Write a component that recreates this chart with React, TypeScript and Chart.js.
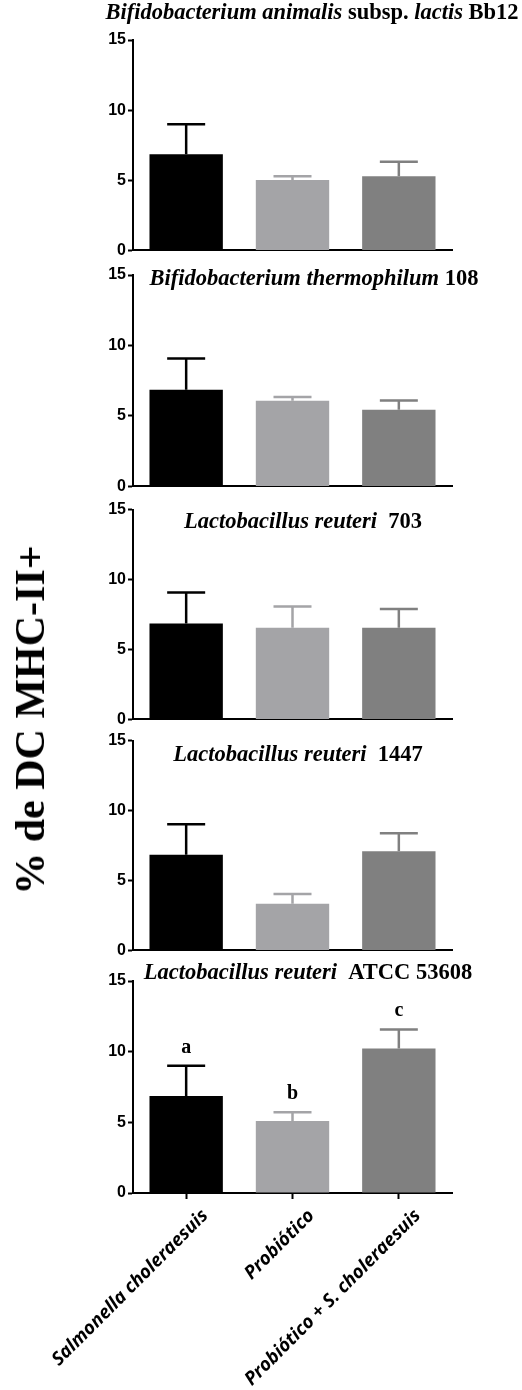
import React, { useEffect, useRef } from "react";
import { Chart, registerables } from "chart.js";

Chart.register(...registerables);

// ---------- DATA ----------
const CATEGORIES = ["Salmonella choleraesuis", "Probiótico", "Probiótico + S. choleraesuis"];
const Y_TICKS = [0, 5, 10, 15];
const Y_TITLE = "% de DC MHC-II+";

const TITLE_BB12: [string, boolean][] = [["Bifidobacterium animalis", true], [" subsp. ", false], ["lactis", true], [" Bb12", false]];
const MEANS_BB12 = [6.86, 5.02, 5.28];
const SEM_BB12 = [2.13, 0.26, 1.04];

const TITLE_108: [string, boolean][] = [["Bifidobacterium thermophilum", true], [" 108", false]];
const MEANS_108 = [6.85, 6.08, 5.44];
const SEM_108 = [2.23, 0.26, 0.66];

const TITLE_703: [string, boolean][] = [["Lactobacillus reuteri", true], ["  703", false]];
const MEANS_703 = [6.85, 6.55, 6.55];
const SEM_703 = [2.22, 1.53, 1.35];

const TITLE_1447: [string, boolean][] = [["Lactobacillus reuteri", true], ["  1447", false]];
const MEANS_1447 = [6.84, 3.33, 7.08];
const SEM_1447 = [2.18, 0.7, 1.29];

const TITLE_53608: [string, boolean][] = [["Lactobacillus reuteri", true], ["  ATCC 53608", false]];
const MEANS_53608 = [6.86, 5.1, 10.23];
const SEM_53608 = [2.14, 0.61, 1.34];
const LETTERS_53608 = ["a", "b", "c"];

// ---------- STYLE / LAYOUT ----------
const BAR_COLORS = ["#000000", "#a4a4a7", "#808080"];
const SERIF = "'Liberation Serif', 'Times New Roman', serif";
const SANS = "'Liberation Sans', Arial, sans-serif";

type Layout = { top: number; height: number; padTop: number; padBottom: number; titleX: number; titleY: number; xLabels: boolean };

const LAYOUTS: Layout[] = [
  { top: 0, height: 262, padTop: 40, padBottom: 10, titleX: 312, titleY: 13, xLabels: false },
  { top: 262, height: 236, padTop: 13, padBottom: 10, titleX: 314, titleY: 279, xLabels: false },
  { top: 498, height: 233, padTop: 11, padBottom: 10, titleX: 303, titleY: 522, xLabels: false },
  { top: 729, height: 233, padTop: 10, padBottom: 10, titleX: 298, titleY: 755, xLabels: false },
  { top: 962, height: 428, padTop: 19, padBottom: 0, titleX: 308, titleY: 973, xLabels: true },
];

type PanelSpec = { title: [string, boolean][]; means: number[]; sems: number[]; letters?: string[]; layout: Layout };

const PANELS: PanelSpec[] = [
  { title: TITLE_BB12, means: MEANS_BB12, sems: SEM_BB12, layout: LAYOUTS[0] },
  { title: TITLE_108, means: MEANS_108, sems: SEM_108, layout: LAYOUTS[1] },
  { title: TITLE_703, means: MEANS_703, sems: SEM_703, layout: LAYOUTS[2] },
  { title: TITLE_1447, means: MEANS_1447, sems: SEM_1447, layout: LAYOUTS[3] },
  { title: TITLE_53608, means: MEANS_53608, sems: SEM_53608, letters: LETTERS_53608, layout: LAYOUTS[4] },
];

function Panel({ p }: { p: PanelSpec }) {
  const ref = useRef<HTMLCanvasElement>(null);
  useEffect(() => {
    const canvas = ref.current!;
    const L = p.layout;

    const errorPlugin = {
      id: "errorBars",
      afterDatasetsDraw(chart: any) {
        const ctx = chart.ctx;
        const meta = chart.getDatasetMeta(0);
        const ys = chart.scales.y;
        meta.data.forEach((bar: any, i: number) => {
          const top = ys.getPixelForValue(p.means[i] + p.sems[i]);
          const x = bar.x;
          const y = bar.y;
          ctx.save();
          ctx.strokeStyle = BAR_COLORS[i];
          ctx.lineWidth = 2.5;
          ctx.beginPath();
          ctx.moveTo(x, y);
          ctx.lineTo(x, top);
          ctx.moveTo(x - 19, top);
          ctx.lineTo(x + 19, top);
          ctx.stroke();
          if (p.letters) {
            ctx.fillStyle = "#000";
            ctx.font = `bold 20px ${SERIF}`;
            ctx.textAlign = "center";
            ctx.textBaseline = "alphabetic";
            ctx.fillText(p.letters[i], x, top - 13);
          }
          ctx.restore();
        });
      },
    };

    const titlePlugin = {
      id: "segTitle",
      afterDraw(chart: any) {
        const ctx = chart.ctx;
        ctx.save();
        ctx.fillStyle = "#000";
        ctx.textBaseline = "middle";
        ctx.textAlign = "left";
        const fonts = p.title.map(([, it]) => `${it ? "italic " : ""}bold 22.5px ${SERIF}`);
        let total = 0;
        const widths = p.title.map(([t], i) => {
          ctx.font = fonts[i];
          const w = ctx.measureText(t).width;
          total += w;
          return w;
        });
        let x = L.titleX - total / 2;
        const y = L.titleY - L.top;
        p.title.forEach(([t], i) => {
          ctx.font = fonts[i];
          ctx.fillText(t, x, y);
          x += widths[i];
        });
        ctx.restore();
      },
    };

    const xScale: any = L.xLabels
      ? {
          offset: true,
          ticks: {
            display: true,
            autoSkip: false,
            minRotation: 45,
            maxRotation: 45,
            color: "#000",
            padding: 6,
            labelOffset: 19,
            font: { family: "'Open Sans', 'DejaVu Sans', sans-serif", style: "italic", weight: "bold", size: 18.5 },
          },
          grid: { offset: false, drawOnChartArea: false, drawTicks: true, tickLength: 6, tickWidth: 2, tickColor: "#000" },
          border: { display: true, width: 2, color: "#000" },
          afterFit: (s: any) => {
            s.height = 197;
          },
        }
      : {
          offset: true,
          ticks: { display: false },
          grid: { offset: false, drawOnChartArea: false, drawTicks: false },
          border: { display: true, width: 2, color: "#000" },
          afterFit: (s: any) => {
            s.height = 0;
          },
        };

    const chart = new Chart(canvas, {
      type: "bar",
      data: {
        labels: CATEGORIES,
        datasets: [
          {
            data: p.means,
            backgroundColor: BAR_COLORS,
            borderWidth: 0,
            categoryPercentage: 1,
            barPercentage: 0.69,
          },
        ],
      },
      options: {
        animation: false,
        responsive: false,
        devicePixelRatio: 1,
        layout: { padding: { left: 99, right: 70, top: L.padTop, bottom: L.padBottom } },
        plugins: { legend: { display: false }, tooltip: { enabled: false }, title: { display: false } },
        scales: {
          x: xScale,
          y: {
            min: 0,
            max: 15,
            afterBuildTicks: (s: any) => {
              s.ticks = Y_TICKS.map((v) => ({ value: v }));
            },
            afterFit: (s: any) => {
              s.width = 34;
            },
            ticks: { color: "#000", padding: 2, font: { family: SANS, weight: "bold", size: 16 } },
            grid: { drawOnChartArea: false, drawTicks: true, tickLength: 5, tickWidth: 2, tickColor: "#000" },
            border: { display: true, width: 2, color: "#000" },
          },
        },
      } as any,
      plugins: [errorPlugin, titlePlugin],
    });
    return () => chart.destroy();
  }, []);

  return (
    <canvas
      ref={ref}
      width={522}
      height={p.layout.height}
      style={{ position: "absolute", left: 0, top: p.layout.top, width: 522, height: p.layout.height }}
    />
  );
}

export default function App() {
  return (
    <div style={{ position: "absolute", left: 0, top: 0, width: 522, height: 1390, background: "#fff", overflow: "hidden" }}>
      {PANELS.map((p, i) => (
        <Panel key={i} p={p} />
      ))}
      <div
        style={{
          position: "absolute",
          left: 30,
          top: 720,
          transform: "translate(-50%, -50%) rotate(-90deg)",
          whiteSpace: "nowrap",
          font: `bold 42px ${SERIF}`,
          color: "#000",
        }}
      >
        {Y_TITLE}
      </div>
    </div>
  );
}
